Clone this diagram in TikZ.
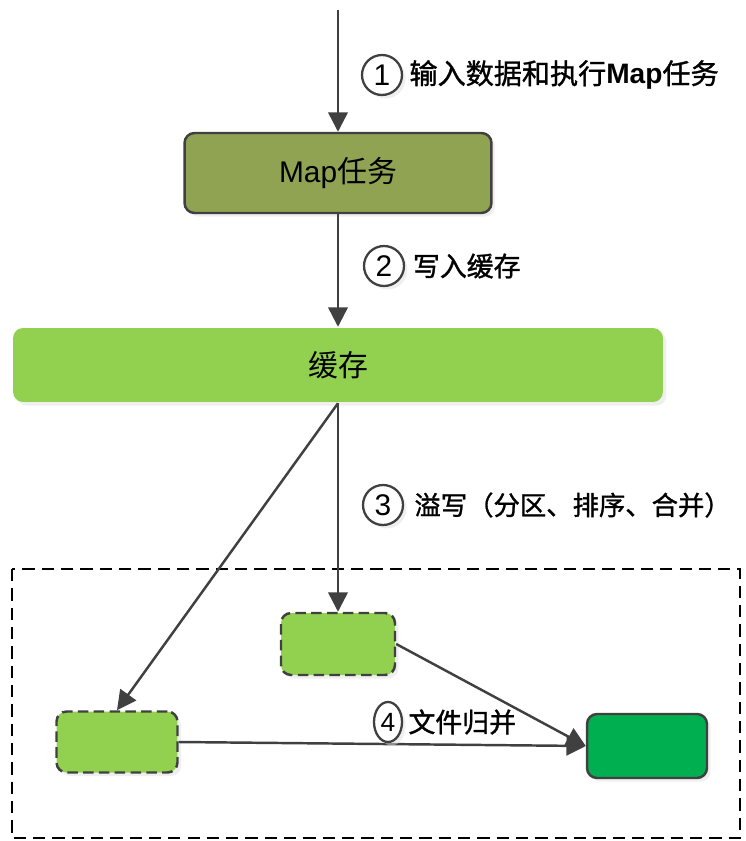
\documentclass[tikz,border=0pt]{standalone}
\usepackage{fontspec}
\setmainfont{Liberation Sans}
\newfontfamily\cjk{Noto Sans CJK SC}
\newfontfamily\cjkmid[FakeBold=1.2]{Noto Sans CJK SC}
\usetikzlibrary{arrows.meta,positioning,shapes.geometric,shadows}

\definecolor{darkline}{RGB}{64,64,64}
\definecolor{mapgreen}{RGB}{143,163,82}
\definecolor{cachegreen}{RGB}{146,208,80}
\definecolor{mergegreen}{RGB}{0,176,80}

\tikzset{
	flow/.style={draw=darkline, line width=1.4pt, -{Triangle[length=11pt,width=11pt]}},
	box/.style={rounded corners=0.2cm, draw=darkline, line width=1.4pt, drop shadow={shadow xshift=2pt, shadow yshift=-2pt, fill=black!12}},
	spillbox/.style={box, fill=cachegreen, dash pattern=on 6pt off 3pt},
	badge/.style={circle, draw=darkline, line width=1.3pt, fill=white, minimum size=0.8cm, inner sep=0pt, font=\fontsize{17}{17}\selectfont, drop shadow={shadow xshift=2pt, shadow yshift=-2pt, fill=black!12}},
	stepnote/.style={inner sep=0pt, font=\fontsize{15.3}{16}\selectfont\cjkmid},
	frame/.style={draw=black, line width=1pt, dash pattern=on 7pt off 4pt}
}

\begin{document}
\begin{tikzpicture}[x=0.02cm,y=-0.02cm]
	\useasboundingbox (0,0) rectangle (745,841);
	% dashed frame round the spill files
	\draw[frame] (12,569) rectangle (740,838);
	% boxes
	\coordinate (input) at (338,10);
	\node[box, fill=mapgreen, minimum width=6.14cm, minimum height=1.6cm, font=\fontsize{17}{17}\selectfont] (map) at (338,173) {Map{\cjk 任务}};
	\node[box, draw=none, fill=cachegreen, minimum width=13cm, minimum height=1.48cm, font=\fontsize{17}{17}\selectfont\cjk] (cache) at (338,365) {缓存};
	\node[spillbox, minimum width=2.28cm, minimum height=1.24cm] (spillA) at (338,644) {};
	\node[spillbox, minimum width=2.42cm, minimum height=1.22cm] (spillB) at (117,742) {};
	\node[box, fill=mergegreen, minimum width=2.4cm, minimum height=1.28cm] (merged) at (647,746) {};
	% arrows
	\draw[flow] (input) -- (map);
	\draw[flow] (map) -- (cache);
	\draw[flow] (cache) -- (spillA);
	\draw[flow] (cache.south) -- (spillB.north);
	\draw[flow] (spillA.east) -- (merged.west);
	\draw[flow] (spillB.east) -- (merged.west);
	% steps
	\node[badge] (n1) at (382,75) {1};
	\node[stepnote, right=0.12cm of n1, font=\fontsize{16}{16}\selectfont\cjkmid] (t1) {输入数据和执行{\bfseries\fontspec{Liberation Sans}Map}任务};
	\node[badge] (n2) at (384,266) {2};
	\node[stepnote, right=0.15cm of n2] (t2) {写入缓存};
	\node[badge] (n3) at (383,505) {3};
	\node[stepnote, right=0.2cm of n3, font=\fontsize{15}{16}\selectfont\cjkmid] (t3) {溢写（分区、排序、合并）};
	\node[badge, ellipse, minimum width=0.56cm, minimum height=0.8cm, font=\fontsize{15}{15}\selectfont] (n4) at (388,722) {4};
	\node[stepnote, right=0.1cm of n4] (t4) {文件归并};
\end{tikzpicture}
\end{document}
